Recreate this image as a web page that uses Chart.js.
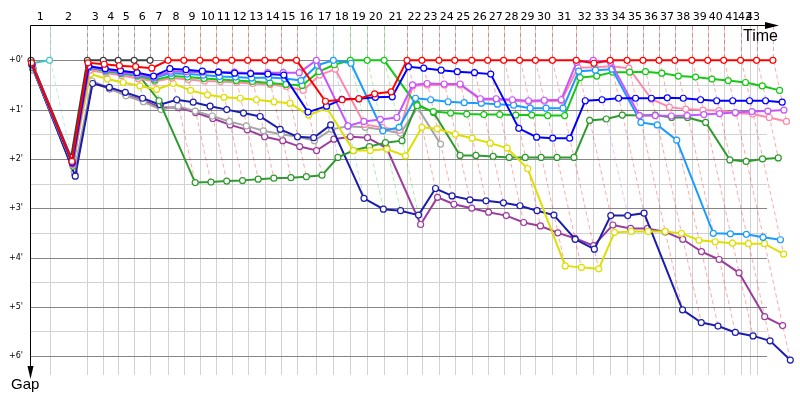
<!DOCTYPE html>
<html>
<head>
<meta charset="utf-8">
<title>Gap chart</title>
<script src="https://cdn.jsdelivr.net/npm/chart.js@4.4.1/dist/chart.umd.min.js"></script>
<style>
  body { margin: 0; background: #fff; }
  #wrap { width: 800px; height: 400px; }
</style>
</head>
<body>
<div id="wrap"><canvas id="gapChart" width="800" height="400"></canvas></div>
<script>
// Leader's elapsed time (minutes) when each lap is done, index 0 = start
const lapTimes = [0, 1.69, 5.15, 6.60, 7.96, 9.42, 10.87, 12.51, 13.96, 15.42, 16.87, 18.33, 19.78,
  21.35, 22.78, 24.24, 26.05, 27.60, 29.15, 30.69, 32.24, 34.33, 35.69, 37.24, 38.69, 40.24, 41.69,
  43.15, 44.60, 46.05, 47.60, 49.78, 51.33, 52.87, 54.42, 55.87, 57.33, 58.78, 60.33, 61.78, 63.24,
  64.78, 66.24, 67.73];

// Vertical lap grid lines and their numbers (numbers sit between lines)
const gridTimes = [1.69, 5.15, 6.60, 7.96, 9.42, 10.87, 12.51, 13.96, 15.42, 16.87, 18.33, 19.78,
  21.35, 22.78, 24.24, 26.05, 27.60, 29.15, 30.69, 32.24, 34.33, 35.69, 37.24, 38.69, 40.24, 41.69,
  43.15, 44.60, 46.05, 47.60, 49.78, 51.33, 52.87, 54.42, 55.87, 57.33, 58.78, 60.33, 61.78, 63.24,
  64.78, 65.60, 66.24];
const lapLabels = ['1', '2', '3', '4', '5', '6', '7', '8', '9', '10', '11', '12', '13', '14', '15',
  '16', '17', '18', '19', '20', '21', '22', '23', '24', '25', '26', '27', '28', '29', '30', '31',
  '32', '33', '34', '35', '36', '37', '38', '39', '40', '41', '42', '43'];

// Gap axis ticks (minutes)
const gapTicks = [0, 1, 2, 3, 4, 5, 6];
const gapLabels = ["+0'", "+1'", "+2'", "+3'", "+4'", "+5'", "+6'"];

// Gap to the leader (minutes) per lap, starting at lap 0
const redGaps = [0.05, 2.05, 0.05, 0.08, 0.11, 0.13, 0.16,
  0, 0, 0, 0, 0, 0, 0, 0, 0,
  0.83, 0.80, 0.78, 0.68, 0.64,
  0, 0, 0, 0, 0, 0, 0, 0, 0, 0, 0,
  0.06,
  0, 0, 0, 0, 0, 0, 0, 0, 0, 0, 0];
const blackGaps = [0, 1.97, 0, 0, 0, 0, 0];
const cyanGaps = [0.06, 0];
const blueGaps = [0.08, 2.08, 0.12, 0.17, 0.21, 0.25, 0.32,
  0.17, 0.19, 0.22, 0.24, 0.26, 0.27, 0.28, 0.30,
  1.05, 0.93, 0.79, 0.78, 0.75, 0.74,
  0.13, 0.16, 0.20, 0.23, 0.25, 0.28,
  1.38, 1.56, 1.58, 1.58,
  0.82, 0.80, 0.77, 0.77, 0.77, 0.76, 0.77, 0.80, 0.82, 0.82, 0.82, 0.82, 0.85];
const lightBlueGaps = [0.10, 2.06, 0.14, 0.20, 0.25, 0.30, 0.36,
  0.26, 0.28, 0.30, 0.33, 0.34, 0.36, 0.35, 0.37,
  0.41, 0.10, 0, 0.06, 1.43, 1.36,
  0.77, 0.80, 0.84, 0.86, 0.87, 0.89, 0.91, 0.97, 0.97, 0.97,
  0.22, 0.20, 0.18,
  1.26, 1.31, 1.62, 3.51, 3.52, 3.53, 3.59, 3.64];
const magentaGaps = [0.10, 2.10, 0.14, 0.19, 0.24, 0.29, 0.35,
  0.22, 0.23, 0.24, 0.24, 0.24, 0.26, 0.25, 0.25, 0.25,
  0, 1.33, 1.24, 1.20, 1.16,
  0.50, 0.47, 0.48, 0.48, 0.78, 0.78, 0.80, 0.82, 0.81, 0.80,
  0.04, 0, 0.04,
  1.12, 1.12, 1.13, 1.12, 1.10, 1.08, 1.06, 1.04, 1.03, 1.01];
const pinkGaps = [0.12, 2.12, 0.20, 0.26, 0.31, 0.37, 0.43,
  0.36, 0.39, 0.42, 0.43, 0.45, 0.47, 0.49, 0.53, 0.61,
  0.30, 0.18, 1.30, 1.36, 1.42,
  0.52, 0.50, 0.50, 0.50, 0.80, 0.80, 0.82, 0.84, 0.83, 0.82,
  0.15, 0.14, 0.12, 0.16,
  0.79, 0.95, 0.99, 1.01, 1.02, 1.07, 1.09, 1.16, 1.24];
const greenGaps = [0.10, 2.10, 0.15, 0.22, 0.27, 0.32, 0.40,
  0.32, 0.34, 0.37, 0.39, 0.41, 0.43, 0.46, 0.49, 0.51,
  0.23, 0.09, 0, 0, 0,
  0.92, 1.04, 1.07, 1.09, 1.10, 1.10, 1.11, 1.11, 1.12, 1.12,
  0.35, 0.32, 0.24, 0.24, 0.23, 0.26, 0.32, 0.34, 0.38, 0.41, 0.45, 0.52, 0.61];
const darkGreenGaps = [0.15, 2.15, 0.15, 0.18, 0.22, 0.26, 0.82,
  2.48, 2.47, 2.45, 2.44, 2.41, 2.39, 2.38, 2.36, 2.33,
  1.97, 1.83, 1.75, 1.67, 1.63,
  0.89, 1.06, 1.93, 1.93, 1.95, 1.97, 1.97, 1.97, 1.97, 1.97,
  1.22, 1.19, 1.11, 1.12, 1.11, 1.16, 1.16, 1.26, 2.02, 2.05, 2.00, 1.98];
const yellowGaps = [0.10, 2.10, 0.28, 0.38, 0.45, 0.52, 0.59,
  0.47, 0.61, 0.70, 0.75, 0.77, 0.80, 0.84, 0.87, 1.11, 0.97,
  1.83, 1.83, 1.80, 1.94,
  1.36, 1.39, 1.50, 1.58, 1.68, 1.78, 2.20, 4.17, 4.20, 4.23,
  3.49, 3.47, 3.47, 3.47, 3.51, 3.65, 3.68, 3.71, 3.72, 3.72, 3.93];
const grayGaps = [0.20, 2.26, 0.42, 0.57, 0.72, 0.84, 1.00,
  0.93, 1.03, 1.13, 1.24, 1.33, 1.43, 1.50, 1.55, 1.63,
  1.40, 1.34, 1.36, 1.41, 1.48, 0.96, 1.70];
const purpleGaps = [0.18, 2.30, 0.45, 0.58, 0.70, 0.82, 0.95,
  0.96, 1.06, 1.18, 1.31, 1.41, 1.55, 1.63, 1.75, 1.83,
  1.60, 1.55, 1.57, 1.78, 3.33,
  2.78, 2.92, 3.00, 3.08, 3.15, 3.29, 3.36, 3.50, 3.61, 3.76,
  3.34, 3.41, 3.41, 3.48, 3.63, 3.88, 4.04, 4.31, 5.20, 5.38];
const darkBlueGaps = [0.15, 2.35, 0.47, 0.55, 0.65, 0.77, 0.90,
  0.80, 0.85, 0.93, 1.00, 1.07, 1.14, 1.40, 1.55, 1.57, 1.31,
  2.80, 3.02, 3.05, 3.14,
  2.60, 2.75, 2.83, 2.85, 2.89, 2.95, 3.05, 3.14, 3.63, 3.83,
  3.15, 3.15, 3.10, 5.06, 5.32, 5.39, 5.52, 5.59, 5.69, 6.08];

// First entry is drawn on top
const series = [
  { label: 'Red', color: '#ff0000', gaps: redGaps },
  { label: 'Blue', color: '#0000ff', gaps: blueGaps },
  { label: 'Magenta', color: '#c455ff', gaps: magentaGaps },
  { label: 'Light blue', color: '#1a9cff', gaps: lightBlueGaps },
  { label: 'Green', color: '#14c814', gaps: greenGaps },
  { label: 'Pink', color: '#ff88aa', gaps: pinkGaps },
  { label: 'Yellow', color: '#dede00', gaps: yellowGaps },
  { label: 'Dark green', color: '#2f9a2f', gaps: darkGreenGaps },
  { label: 'Dark blue', color: '#1c1cae', gaps: darkBlueGaps },
  { label: 'Gray', color: '#a6a6a6', gaps: grayGaps },
  { label: 'Purple', color: '#9c3c9c', gaps: purpleGaps },
  { label: 'Black', color: '#3c3c3c', gaps: blackGaps },
  { label: 'Cyan', color: '#45c4c4', gaps: cyanGaps }
];

// Where the horizontal grid stops (minutes)
const GRID_END = 67.2;

// Leader colour and biggest gap of every lap, used for the dashed lap lines
function lapInfo(lap) {
  let leader = null, maxGap = 0, minGap = Infinity;
  series.forEach(s => {
    const g = s.gaps[lap];
    if (g === undefined) return;
    if (g < minGap) { minGap = g; leader = s; }
    if (g > maxGap) maxGap = g;
  });
  return { leader, maxGap };
}

const gapChartDecor = {
  id: 'gapChartDecor',
  beforeDatasetsDraw(chart) {
    const { ctx, chartArea: a } = chart;
    const x = chart.scales.x, y = chart.scales.y;
    const xEnd = x.getPixelForValue(GRID_END);
    ctx.save();
    ctx.lineWidth = 1;

    // light half-minute lines
    ctx.strokeStyle = '#d2d2d2';
    for (let g = 0.5; g < 6; g += 1) {
      const py = Math.round(y.getPixelForValue(g)) + 0.5;
      ctx.beginPath(); ctx.moveTo(a.left, py); ctx.lineTo(xEnd, py); ctx.stroke();
    }
    // lap grid lines
    gridTimes.forEach(t => {
      const px = Math.round(x.getPixelForValue(t)) + 0.5;
      ctx.beginPath(); ctx.moveTo(px, a.top); ctx.lineTo(px, a.bottom); ctx.stroke();
    });
    // whole-minute lines
    ctx.strokeStyle = '#858585';
    gapTicks.forEach(g => {
      const py = Math.round(y.getPixelForValue(g)) + 0.5;
      ctx.beginPath(); ctx.moveTo(a.left, py); ctx.lineTo(xEnd, py); ctx.stroke();
    });

    // dashed lap lines, coloured by the leader of that lap
    ctx.setLineDash([4, 3]);
    ctx.globalAlpha = 0.35;
    for (let lap = 1; lap < lapTimes.length; lap++) {
      const info = lapInfo(lap);
      if (!info.leader) continue;
      const px = Math.round(x.getPixelForValue(lapTimes[lap])) + 0.5;
      ctx.strokeStyle = info.leader.color;
      ctx.beginPath();
      ctx.moveTo(px, a.top);
      ctx.lineTo(px, y.getPixelForValue(0));
      ctx.lineTo(x.getPixelForValue(lapTimes[lap] + info.maxGap), y.getPixelForValue(info.maxGap));
      ctx.stroke();
    }
    ctx.restore();
  },
  afterDatasetsDraw(chart) {
    const { ctx, chartArea: a } = chart;
    const x = chart.scales.x, y = chart.scales.y;
    const left = a.left - 0.5, top = a.top - 0.5;
    ctx.save();
    ctx.strokeStyle = '#000';
    ctx.fillStyle = '#000';
    ctx.lineWidth = 1;

    // time axis with arrow
    ctx.beginPath(); ctx.moveTo(left, top); ctx.lineTo(768, top); ctx.stroke();
    ctx.beginPath(); ctx.moveTo(779, top); ctx.lineTo(765, top - 3.5); ctx.lineTo(765, top + 3.5); ctx.closePath(); ctx.fill();
    // gap axis with arrow
    ctx.beginPath(); ctx.moveTo(left, top); ctx.lineTo(left, 368); ctx.stroke();
    ctx.beginPath(); ctx.moveTo(left, 379); ctx.lineTo(left - 3, 366); ctx.lineTo(left + 3, 366); ctx.closePath(); ctx.fill();

    // lap numbers between the grid lines
    ctx.font = '11px "DejaVu Sans"';
    ctx.textAlign = 'center';
    ctx.textBaseline = 'middle';
    gridTimes.forEach((t, i) => {
      const prev = i === 0 ? 0 : gridTimes[i - 1];
      const px = (x.getPixelForValue(prev) + x.getPixelForValue(t)) / 2;
      ctx.fillText(lapLabels[i], px, 17);
    });

    // gap labels
    ctx.font = '8px "DejaVu Sans"';
    ctx.textAlign = 'right';
    gapTicks.forEach((g, i) => {
      ctx.fillText(gapLabels[i], 23, y.getPixelForValue(g));
    });

    // axis titles
    ctx.font = '16px "Liberation Sans"';
    ctx.textAlign = 'left';
    ctx.textBaseline = 'alphabetic';
    ctx.fillText('Time', 743, 41);
    ctx.font = '15px "Liberation Sans"';
    ctx.fillText('Gap', 11, 389);
    ctx.restore();
  }
};

const datasets = series.map(s => ({
  label: s.label,
  data: s.gaps.map((g, lap) => ({ x: lapTimes[lap] + g, y: g })),
  borderColor: s.color,
  backgroundColor: '#ffffff',
  borderWidth: 2,
  pointRadius: 3,
  pointBorderWidth: 1.2,
  pointBorderColor: s.color,
  pointBackgroundColor: '#ffffff',
  tension: 0,
  clip: false
}));

// 11 px per minute across, the area runs almost to the right edge so late laps stay drawn
new Chart(document.getElementById('gapChart'), {
  type: 'line',
  data: { datasets },
  options: {
    responsive: false,
    animation: false,
    layout: { padding: { left: 31, right: 2, top: 26, bottom: 25 } },
    plugins: { legend: { display: false }, tooltip: { enabled: false } },
    scales: {
      x: { type: 'linear', min: 0, max: 69.73, display: false },
      y: { type: 'linear', min: -0.696, max: 6.383, reverse: true, display: false }
    }
  },
  plugins: [gapChartDecor]
});
</script>
</body>
</html>
